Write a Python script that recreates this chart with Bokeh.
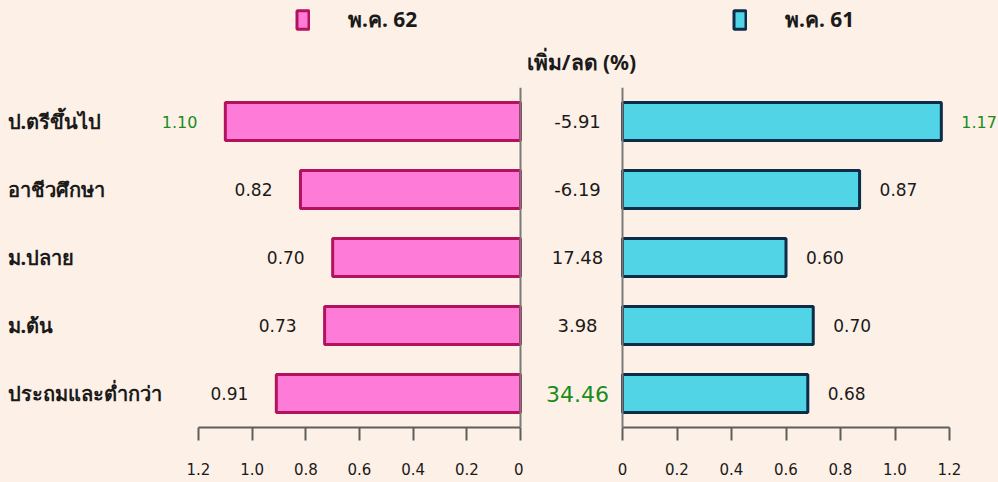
from bokeh.plotting import figure
from bokeh.models import (Range1d, FactorRange, LinearAxis, FixedTicker,
                          CustomJSTickFormatter, Span, Label, ColumnDataSource,
                          Legend, LegendItem)
from bokeh.layouts import row, column
from bokeh.embed import file_html
from bokeh.resources import INLINE
from bokeh.core.properties import value

# ---------------- data ----------------
categories = ["ป.ตรีขึ้นไป", "อาชีวศึกษา", "ม.ปลาย", "ม.ต้น", "ประถมและต่ำกว่า"]
may62 = [1.10, 0.82, 0.70, 0.73, 0.91]
may61 = [1.17, 0.87, 0.60, 0.70, 0.68]
change_pct = [-5.91, -6.19, 17.48, 3.98, 34.46]
legend_62 = "พ.ค. 62"
legend_61 = "พ.ค. 61"
change_title = "เพิ่ม/ลด (%)"
ticks = [0, 0.2, 0.4, 0.6, 0.8, 1.0, 1.2]

# ---------------- style ----------------
BG = "#FDF0E7"
PINK, PINK_EDGE = "#FF7BD8", "#B3125C"
BLUE, BLUE_EDGE = "#50D4E6", "#0C2C48"
TXT, GREEN = "#1a1a1a", "#1B8C1B"
AXIS_C = "#5e5e5e"
THAI = value("Noto Sans")
NUM = value("DejaVu Sans")

W_TOTAL = 998
W_L, W_R = 523, 475
H_TOP, H_BOT = 87, 395
BOTTOM = 55
ppu_l = 322 / 1.2
l_start, l_end = 520 / ppu_l, -(W_L - 520) / ppu_l
ppu_r = 327 / 1.2
r_start, r_end = -99 / ppu_r, (W_R - 99) / ppu_r

y_factors = categories[::-1]


def base_fig(width, xr):
    p = figure(width=width, height=H_BOT, x_range=xr,
               y_range=FactorRange(factors=y_factors, range_padding=0),
               x_axis_location=None, y_axis_location=None,
               toolbar_location=None, output_backend="svg",
               min_border_left=0, min_border_right=0,
               min_border_top=0, min_border_bottom=BOTTOM,
               background_fill_color=BG, border_fill_color=BG,
               outline_line_color=None)
    p.xgrid.grid_line_color = None
    p.ygrid.grid_line_color = None
    ax = LinearAxis(ticker=FixedTicker(ticks=ticks),
                    formatter=CustomJSTickFormatter(
                        code="return tick == 0 ? '0' : tick.toFixed(1);"),
                    bounds=(min(ticks), max(ticks)))
    ax.axis_line_color = AXIS_C
    ax.axis_line_width = 2
    ax.major_tick_line_color = AXIS_C
    ax.major_tick_line_width = 2
    ax.major_tick_in = 0
    ax.major_tick_out = 13
    ax.minor_tick_line_color = None
    ax.major_label_standoff = 22
    ax.major_label_text_font = "DejaVu Sans"
    ax.major_label_text_font_size = "15px"
    ax.major_label_text_color = TXT
    p.add_layout(ax, "below")
    p.add_layout(Span(location=0, dimension="height",
                      line_color="#7a7a7a", line_width=2))
    return p


def colors_for(vals):
    m = max(vals)
    return [GREEN if v == m else TXT for v in vals]


src_l = ColumnDataSource(dict(
    cat=categories, val=may62,
    lbl=["%.2f" % v for v in may62],
    color=colors_for(may62),
    size=["16px" if v == max(may62) else "17px" for v in may62]))

src_r = ColumnDataSource(dict(
    cat=categories, val=may61,
    lbl=["%.2f" % v for v in may61],
    color=colors_for(may61),
    size=["16px" if v == max(may61) else "17px" for v in may61],
    chg=["%.2f" % v for v in change_pct],
    chg_color=colors_for(change_pct),
    chg_size=["22px" if v == max(change_pct) else "18px" for v in change_pct]))

# ---------------- top strip: legends + change title ----------------
top = figure(width=W_TOTAL, height=H_TOP, x_range=Range1d(start=0, end=1),
             y_range=FactorRange(factors=y_factors),
             x_axis_location=None, y_axis_location=None,
             toolbar_location=None, output_backend="svg",
             min_border=0, background_fill_color=BG, border_fill_color=BG,
             outline_line_color=None)
top.xgrid.grid_line_color = None
top.ygrid.grid_line_color = None
# legend proxies (hidden copies of the two series)
sw62 = top.hbar(y="cat", left=0, right="val", height=0.5, source=src_l,
                fill_color=PINK, line_color=PINK_EDGE, line_width=3,
                visible=False)
sw61 = top.hbar(y="cat", left=0, right="val", height=0.5, source=src_r,
                fill_color=BLUE, line_color=BLUE_EDGE, line_width=3,
                visible=False)


def add_legend(renderer, label, x):
    lg = Legend(items=[LegendItem(label=label, renderers=[renderer])],
                location=(x, H_TOP - 36))
    lg.padding = 0
    lg.margin = 0
    lg.spacing = 0
    lg.border_line_color = None
    lg.background_fill_alpha = 0
    lg.glyph_width = 15
    lg.glyph_height = 23
    lg.label_height = 23
    lg.label_standoff = 38
    lg.label_text_font = "Noto Sans"
    lg.label_text_font_style = "bold"
    lg.label_text_font_size = "21px"
    lg.label_text_color = TXT
    lg.label_text_baseline = "middle"
    top.add_layout(lg)


add_legend(sw62, legend_62, 295)
add_legend(sw61, legend_61, 732)
top.add_layout(Label(x=581, y=H_TOP - 61, x_units="screen", y_units="screen",
                     text=change_title, text_align="center",
                     text_baseline="middle", text_font="Noto Sans",
                     text_font_style="bold",
                     text_font_size="21px", text_color=TXT))

# ---------------- left panel (พ.ค. 62) ----------------
pl = base_fig(W_L, Range1d(start=l_start, end=l_end))
pl.hbar(y="cat", left=0, right="val", height=0.56, source=src_l,
        fill_color=PINK, line_color=PINK_EDGE, line_width=3)
pl.text(x="val", y="cat", text="lbl", source=src_l, x_offset=-28,
        text_align="right", text_baseline="middle", text_font=NUM,
        text_font_size="size", text_color="color")
pl.text(x=l_start, y="cat", text="cat", source=src_l, x_offset=7,
        text_align="left", text_baseline="middle", text_font=THAI,
        text_font_style="bold", text_font_size="20px", text_color=TXT)

# ---------------- right panel (พ.ค. 61) + change column ----------------
pr = base_fig(W_R, Range1d(start=r_start, end=r_end))
pr.hbar(y="cat", left=0, right="val", height=0.56, source=src_r,
        fill_color=BLUE, line_color=BLUE_EDGE, line_width=3)
pr.text(x="val", y="cat", text="lbl", source=src_r, x_offset=20,
        text_align="left", text_baseline="middle", text_font=NUM,
        text_font_size="size", text_color="color")
mid_x = r_start + 54 / ppu_r
pr.text(x=mid_x, y="cat", text="chg", source=src_r,
        text_align="center", text_baseline="middle", text_font=NUM,
        text_font_size="chg_size", text_color="chg_color")

layout = column(top, row(pl, pr))
html = file_html(layout, INLINE)
html = html.replace(
    "</head>",
    "<style>html,body{margin:0;padding:0;background:%s;overflow:hidden}</style></head>" % BG,
    1)
open("out.html", "w").write(html)
